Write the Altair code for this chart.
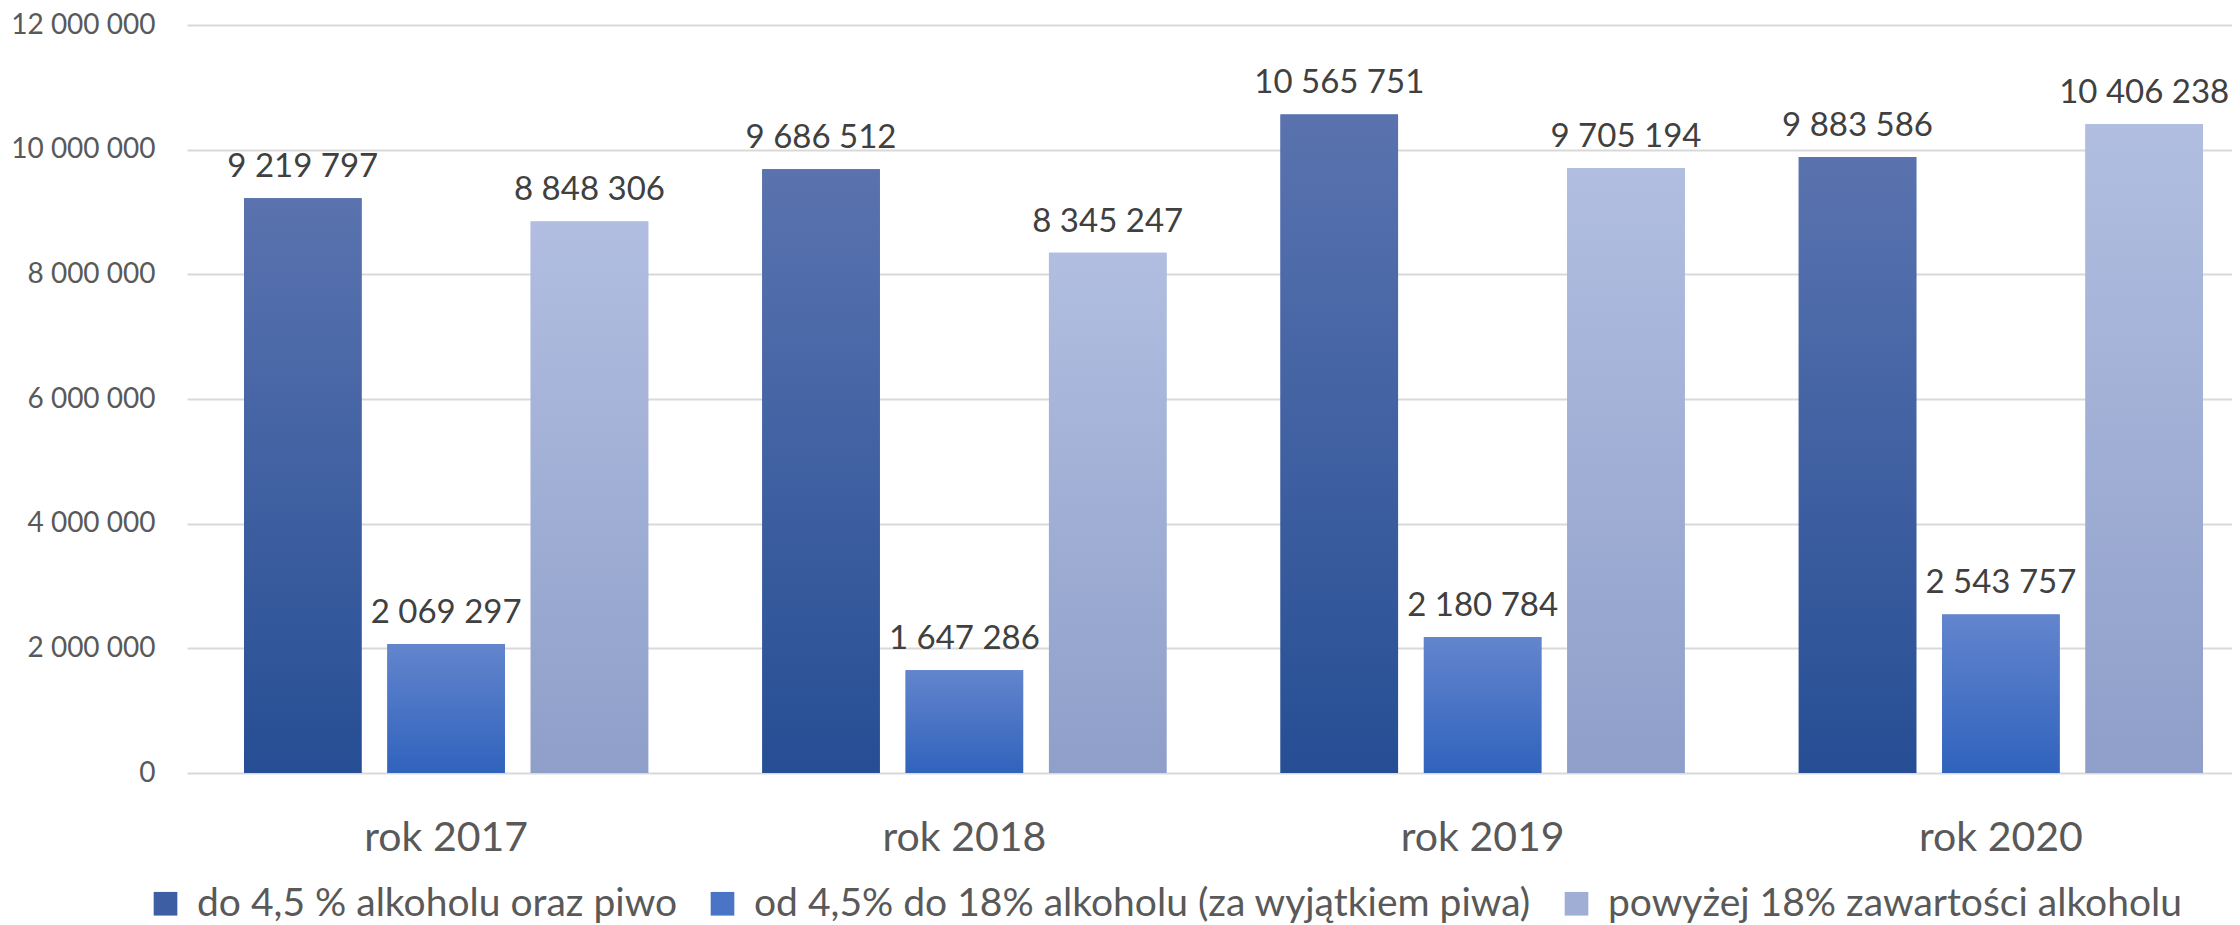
import altair as alt
import pandas as pd

years = ["rok 2017", "rok 2018", "rok 2019", "rok 2020"]
series = [
    "do 4,5 % alkoholu oraz piwo",
    "od 4,5% do 18% alkoholu (za wyjątkiem piwa)",
    "powyżej 18% zawartości alkoholu",
]
values_s1 = [9219797, 9686512, 10565751, 9883586]
values_s2 = [2069297, 1647286, 2180784, 2543757]
values_s3 = [8848306, 8345247, 9705194, 10406238]

top_colors = ["#5a73af", "#6385cd", "#b1bee1"]
bottom_colors = ["#264e94", "#3063bd", "#8f9fc9"]
legend_colors = ["#3d5ea3", "#4a74c6", "#a0aed6"]

rows = []
for s, vals in zip(series, [values_s1, values_s2, values_s3]):
    for y, v in zip(years, vals):
        rows.append({"year": y, "series": s, "value": v,
                     "label": f"{v:,}".replace(",", " ")})
df = pd.DataFrame(rows)

FONT = "Lato"

x_enc = alt.X(
    "year:N",
    sort=years,
    scale=alt.Scale(domain=years, range=[0, 2073], paddingInner=0.22, paddingOuter=0.11),
    axis=alt.Axis(title=None, labelAngle=0, labelFont=FONT, labelFontSize=41,
                  labelColor="#595959", ticks=False, tickSize=0, domain=False,
                  labelPadding=77, labelBaseline="alphabetic", grid=False),
)
xo_enc = alt.XOffset("series:N", sort=series,
                     scale=alt.Scale(domain=series, paddingInner=0.18, paddingOuter=0))
y_enc = alt.Y(
    "value:Q",
    scale=alt.Scale(domain=[0, 12000000], nice=False),
    axis=alt.Axis(title=None, values=[0, 2000000, 4000000, 6000000, 8000000, 10000000, 12000000],
                  labelExpr="replace(format(datum.value, ',d'), regexp(',', 'g'), ' ')",
                  labelFont=FONT, labelFontSize=28, labelColor="#595959",
                  ticks=False, tickSize=0, domain=False, labelPadding=32,
                  gridColor="#d9d9d9", gridWidth=2),
)

base = alt.Chart(df).encode(x=x_enc, xOffset=xo_enc, y=y_enc)

legend_layer = base.mark_bar().encode(
    color=alt.Color(
        "series:N", sort=series,
        scale=alt.Scale(domain=series, range=legend_colors),
        legend=alt.Legend(
            title=None, orient="none", direction="horizontal",
            legendX=-41, legendY=859, labelFont=FONT, labelFontSize=39,
            labelColor="#595959", symbolType="square", symbolSize=560,
            symbolStrokeWidth=0, labelOffset=12, columnPadding=25, padding=0,
            labelLimit=1200,
        ),
    )
)

grad_layers = []
for s, tc, bc in zip(series, top_colors, bottom_colors):
    grad = alt.Gradient(
        gradient="linear",
        stops=[alt.GradientStop(color=tc, offset=0), alt.GradientStop(color=bc, offset=1)],
        x1=0, x2=0, y1=0, y2=1,
    )
    grad_layers.append(
        base.transform_filter(alt.datum.series == s).mark_bar(color=grad)
    )

text_layer = base.mark_text(
    dy=-21, baseline="alphabetic", font=FONT, fontSize=33, color="#404040"
).encode(text="label:N")

chart = alt.layer(legend_layer, *grad_layers, text_layer).properties(
    width=2045, height=748,
    padding={"left": 179, "top": 17, "right": 0, "bottom": 150},
    autosize=alt.AutoSizeParams(type="none"),
    background="white",
).configure_view(stroke=None)

chart.save("out.html", embed_options={"renderer": "svg", "actions": False})
